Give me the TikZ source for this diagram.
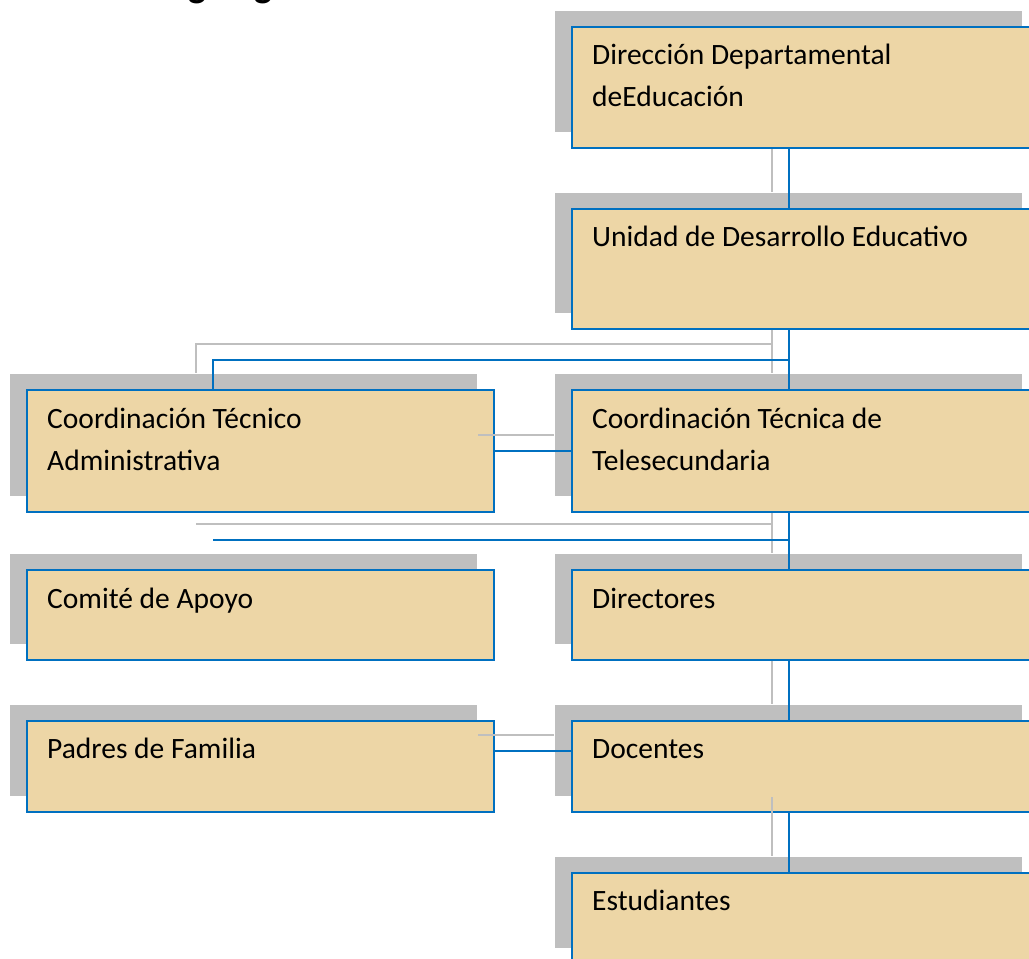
\documentclass[tikz,border=0pt]{standalone}
\usepackage{fontspec}
\setmainfont{Carlito}
\usetikzlibrary{calc,shadows}
\pgfdeclarelayer{bg}
\pgfdeclarelayer{fg}
\pgfsetlayers{bg,main,fg}
\definecolor{ublue}{HTML}{0070C0}
\definecolor{sgray}{HTML}{BFBFBF}
\definecolor{papyrus}{RGB}{237,214,166}
\newcommand{\twolines}[2]{\vtop{\baselineskip=42pt\hbox{#1}\hbox{#2}}}
\begin{document}
\begin{tikzpicture}[x=1pt,y=1pt,
  orgbox/.style={draw=ublue, line width=2pt, fill=papyrus, minimum width=467pt,
    inner sep=0pt, anchor=north west,
    general shadow={fill=sgray, shadow xshift=-17pt, shadow yshift=16pt}},
  lbl/.style={anchor=base west, inner sep=0pt, font=\fontsize{29.5}{42}\selectfont},
  blueline/.style={draw=ublue, line width=2pt},
  grayline/.style={draw=sgray, line width=2pt},
  headfont/.style={anchor=base west, inner sep=0pt, font=\fontsize{37.8}{40}\selectfont\bfseries}]
\useasboundingbox (0,0) rectangle (1029,-959);

% cropped heading
\node[headfont] (hd) at (150,3) {Organigrama};

% boxes
\node[orgbox, minimum height=121pt] (b1) at (571,-26) {};
\node[orgbox, minimum height=120pt] (b2) at (571,-208) {};
\node[orgbox, minimum height=122pt] (cta) at (26,-389) {};
\node[orgbox, minimum height=122pt] (ctt) at (571,-389) {};
\node[orgbox, minimum height=90pt] (com) at (26,-569) {};
\node[orgbox, minimum height=90pt] (dir) at (571,-569) {};
\node[orgbox, minimum height=91pt] (pad) at (26,-720) {};
\node[orgbox, minimum height=91pt] (doc) at (571,-720) {};
\node[orgbox, minimum height=91pt] (est) at (571,-872) {};

% labels
\node[lbl] (t1) at ($(b1.north west)+(21,-38)$) {\twolines{Dirección Departamental}{deEducación}};
\node[lbl] (t2) at ($(b2.north west)+(21,-38)$) {Unidad de Desarrollo Educativo};
\node[lbl] (t3) at ($(cta.north west)+(21,-39)$) {\twolines{Coordinación Técnico}{Administrativa}};
\node[lbl] (t4) at ($(ctt.north west)+(21,-39)$) {\twolines{Coordinación Técnica de}{Telesecundaria}};
\node[lbl] (t5) at ($(com.north west)+(21,-39)$) {Comité de Apoyo};
\node[lbl] (t6) at ($(dir.north west)+(21,-39)$) {Directores};
\node[lbl] (t7) at ($(pad.north west)+(21,-38)$) {Padres de Familia};
\node[lbl] (t8) at ($(doc.north west)+(21,-38)$) {Docentes};
\node[lbl] (t9) at ($(est.north west)+(21,-38)$) {Estudiantes};

% helper coordinates
\coordinate (tr) at (789,0);
\coordinate (lt) at (213,0);
\coordinate (j1) at (789,-360);
\coordinate (j2) at (789,-540);
\coordinate (c2) at (213,-540);
\coordinate (h2) at (0,-751);

% shadow connectors below boxes
\begin{pgfonlayer}{bg}
\fill[white] (0,0) rectangle (1029,-959);
\draw[grayline] ($(b1.south -| tr)+(-17,16)$) -- ($(b2.north -| tr)+(-17,16)$);
\draw[grayline] ($(b2.south -| tr)+(-17,16)$) -- ($(ctt.north -| tr)+(-17,16)$);
\draw[grayline] ($(j1)+(-17,16)$) -| ($(cta.north -| lt)+(-17,16)$);
\draw[grayline] ($(ctt.south -| tr)+(-17,16)$) -- ($(dir.north -| tr)+(-17,16)$);
\draw[grayline] ($(j2)+(-17,16)$) -- ($(c2)+(-17,16)$);
\draw[grayline] ($(dir.south -| tr)+(-17,16)$) -- ($(doc.north -| tr)+(-17,16)$);
\end{pgfonlayer}

% shadow connectors drawn over boxes
\begin{pgfonlayer}{fg}
\draw[grayline] ($(cta.east)+(-17,16)$) -- ($(ctt.west)+(-17,16)$);
\draw[grayline] ($(pad.east |- h2)+(-17,16)$) -- ($(doc.west |- h2)+(-17,16)$);
\draw[grayline] ($(doc.south -| tr)+(-17,16)$) -- ($(est.north -| tr)+(-17,16)$);
\end{pgfonlayer}

% blue connectors
\draw[blueline] (b1.south -| tr) -- (b2.north -| tr);
\draw[blueline] (b2.south -| tr) -- (ctt.north -| tr);
\draw[blueline] (j1) -| (cta.north -| lt);
\draw[blueline] (cta.east) -- (ctt.west);
\draw[blueline] (ctt.south -| tr) -- (dir.north -| tr);
\draw[blueline] (j2) -- (c2);
\draw[blueline] (dir.south -| tr) -- (doc.north -| tr);
\draw[blueline] (pad.east |- h2) -- (doc.west |- h2);
\draw[blueline] (doc.south -| tr) -- (est.north -| tr);
\end{tikzpicture}
\end{document}
